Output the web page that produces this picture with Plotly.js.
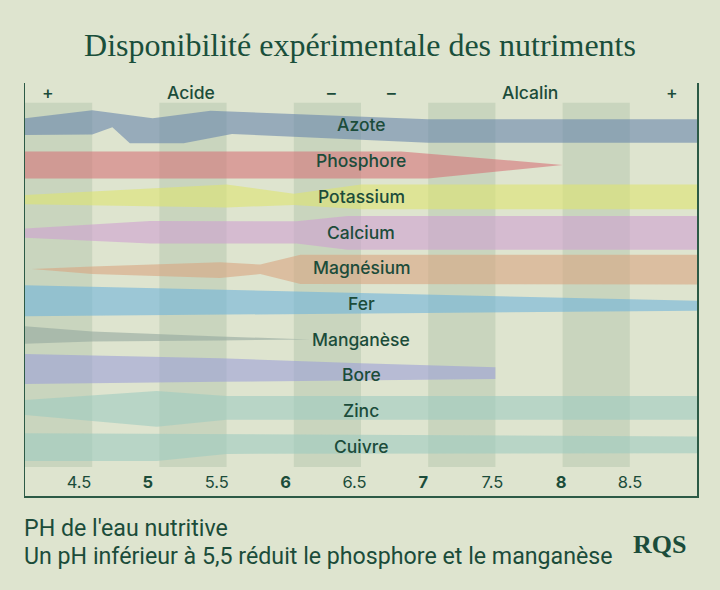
<!DOCTYPE html>
<html>
<head>
<meta charset="utf-8">
<script src="https://cdn.plot.ly/plotly-3.0.1.min.js"></script>
<style>
  html, body { margin: 0; padding: 0; background: #dee4cf; }
  #chart { width: 720px; height: 590px; }
</style>
</head>
<body>
<div id="chart"></div>
<script>
// ---------- data ----------
const nutrients = ['Azote','Phosphore','Potassium','Calcium','Magnésium','Fer','Manganèse','Bore','Zinc','Cuivre'];
const rowPos = [0,10,20,30,40,50,60,70,80,90];

const phTicks = [4.5,5,5.5,6,6.5,7,7.5,8,8.5];
const phTickText = ['4.5','<b>5</b>','5.5','<b>6</b>','6.5','<b>7</b>','7.5','<b>8</b>','8.5'];

const zoneStarts = [4,5,6,7,8];

const scaleLabels = ['+','Acide','–','–','Alcalin','+'];
const scaleLabelPH = [4.17,5.235,6.284,6.73,7.757,8.814];

// band edges: pH positions and availability edges (upper / lower)
const azoteTopPH = [4.0,4.5,4.95,5.38,7.0,9.0];
const azoteTop   = [-1.9,-4.1,-1.9,-4.0,-1.6,-1.6];
const azoteBotPH = [4.0,4.5,4.65,4.78,5.18,5.54,7.0,9.0];
const azoteBot   = [2.8,2.7,0.6,5.1,5.1,2.5,5.0,5.0];

const phosTopPH = [4.0,6.8,8.0];
const phosTop   = [7.4,7.4,11.2];
const phosBotPH = [4.0,7.0,8.0];
const phosBot   = [15.0,15.0,11.2];

const potaTopPH = [4.0,5.5,6.0,6.5,9.0];
const potaTop   = [19.6,16.7,19.3,16.7,16.7];
const potaBotPH = [4.0,5.5,6.0,6.5,9.0];
const potaBot   = [22.2,23.1,22.4,23.6,23.6];

const calcTopPH = [4.0,4.93,6.02,6.4,9.0];
const calcTop   = [29.0,26.9,27.0,25.5,25.5];
const calcBotPH = [4.0,4.93,6.02,6.4,9.0];
const calcBot   = [31.6,33.2,33.2,35.0,35.0];

const magnTopPH = [4.05,4.5,5.45,5.75,6.05,9.0];
const magnTop   = [40.4,39.7,38.5,39.1,36.4,36.4];
const magnBotPH = [4.05,4.5,5.45,5.75,6.05,9.0];
const magnBot   = [40.4,41.8,42.9,41.8,44.6,44.7];

const ferTopPH = [4.0,6.5,7.31,9.0];
const ferTop   = [44.9,47.1,47.7,49.3];
const ferBotPH = [4.0,6.5,9.0];
const ferBot   = [53.6,52.9,52.1];

const mangTopPH = [4.0,4.5,5.45,6.12];
const mangTop   = [56.4,57.9,59.3,60.1];
const mangBotPH = [4.0,4.5,5.45,6.12];
const mangBot   = [61.3,60.7,60.4,60.1];

const boreTopPH = [4.0,5.45,6.5,7.5];
const boreTop   = [64.2,65.4,66.8,67.9];
const boreBotPH = [4.0,5.45,6.5,7.5];
const boreBot   = [72.6,72.0,71.5,71.2];

const zincTopPH = [4.0,4.98,5.5,9.0];
const zincTop   = [77.1,74.6,76.0,76.0];
const zincBotPH = [4.0,4.98,5.5,9.0];
const zincBot   = [81.3,84.6,82.6,82.6];

const cuivTopPH = [4.0,6.5,9.0];
const cuivTop   = [86.4,86.9,87.3];
const cuivBotPH = [4.0,4.98,5.5,9.0];
const cuivBot   = [94.2,94.2,92.2,92.0];

const bandColors = [
  'rgba(104,133,172,0.6)',
  'rgba(214,115,120,0.6)',
  'rgba(222,228,112,0.6)',
  'rgba(207,160,209,0.6)',
  'rgba(217,165,129,0.6)',
  'rgba(112,180,219,0.6)',
  'rgba(149,168,159,0.6)',
  'rgba(157,160,215,0.6)',
  'rgba(159,203,192,0.6)',
  'rgba(159,203,192,0.6)'
];

const bands = [
  [azoteTopPH,azoteTop,azoteBotPH,azoteBot],
  [phosTopPH,phosTop,phosBotPH,phosBot],
  [potaTopPH,potaTop,potaBotPH,potaBot],
  [calcTopPH,calcTop,calcBotPH,calcBot],
  [magnTopPH,magnTop,magnBotPH,magnBot],
  [ferTopPH,ferTop,ferBotPH,ferBot],
  [mangTopPH,mangTop,mangBotPH,mangBot],
  [boreTopPH,boreTop,boreBotPH,boreBot],
  [zincTopPH,zincTop,zincBotPH,zincBot],
  [cuivTopPH,cuivTop,cuivBotPH,cuivBot]
];

// ---------- styling ----------
const GREEN = '#1b4c3a';
const BG = '#dee4cf';
const ZONE = 'rgba(176,195,168,0.45)';
const SANS = 'Inter, "Open Sans", sans-serif';

const traces = bands.map((b, i) => ({
  type: 'scatter',
  mode: 'lines',
  x: b[0].concat(b[2].slice().reverse()),
  y: b[1].concat(b[3].slice().reverse()),
  fill: 'toself',
  fillcolor: bandColors[i],
  line: { width: 0, color: 'rgba(0,0,0,0)' },
  hoverinfo: 'skip',
  name: nutrients[i],
  xaxis: 'x', yaxis: 'y'
}));

// empty trace so the label axis is drawn
traces.push({ type: 'scatter', mode: 'markers', x: [], y: [], xaxis: 'x2', yaxis: 'y', hoverinfo: 'skip' });

const shapes = zoneStarts.map(s => ({
  type: 'rect', layer: 'below', xref: 'x', yref: 'y',
  x0: s, x1: s + 0.5, y0: -6.2, y1: 95.9,
  fillcolor: ZONE, line: { width: 0 }
}));

const annotations = [];
nutrients.forEach((n, i) => annotations.push({
  x: 6.5, y: rowPos[i], xref: 'x', yref: 'y', text: n, showarrow: false,
  font: { family: SANS, size: 17.5, weight: 500, color: GREEN },
  xanchor: 'center', yanchor: 'middle'
}));
scaleLabels.forEach((t, i) => annotations.push({
  x: scaleLabelPH[i], y: -9.0, xref: 'x', yref: 'y', text: t, showarrow: false,
  font: { family: SANS, size: 17.5, weight: 500, color: GREEN },
  xanchor: 'center', yanchor: 'middle'
}));
annotations.push({
  xref: 'paper', yref: 'paper', x: -0.0045, y: -0.0775, xanchor: 'left', yanchor: 'middle',
  text: "PH de l'eau nutritive", showarrow: false,
  font: { family: 'Roboto, sans-serif', size: 23.2, color: GREEN }
});
annotations.push({
  xref: 'paper', yref: 'paper', x: -0.0045, y: -0.145, xanchor: 'left', yanchor: 'middle',
  text: 'Un pH inférieur à 5,5 réduit le phosphore et le manganèse', showarrow: false,
  font: { family: 'Roboto, sans-serif', size: 23.2, color: GREEN }
});
annotations.push({
  xref: 'paper', yref: 'paper', x: 0.9435, y: -0.118, xanchor: 'center', yanchor: 'middle',
  text: '<b>RQS</b>', showarrow: false,
  font: { family: '"Liberation Serif", serif', size: 26, color: GREEN }
});

const layout = {
  width: 720, height: 590,
  margin: { l: 25, r: 23, t: 83, b: 94 },
  paper_bgcolor: BG, plot_bgcolor: BG,
  showlegend: false, hovermode: false,
  title: {
    text: 'Disponibilité expérimentale des nutriments',
    x: 0.5, xref: 'container', xanchor: 'center',
    y: 1 - 45/590, yref: 'container', yanchor: 'middle',
    font: { family: '"Liberation Serif", "DejaVu Serif", serif', size: 32, color: '#1a4f3b' }
  },
  xaxis: {
    range: [4, 9], showgrid: false, zeroline: false,
    showticklabels: false, ticks: '',
    showline: true, linecolor: '#2c5a46', linewidth: 1.5, mirror: false
  },
  xaxis2: {
    overlaying: 'x', anchor: 'y', side: 'bottom',
    range: [4.108, 8.986], showgrid: false, zeroline: false, showline: false,
    tickvals: phTicks, ticktext: phTickText, ticks: '',
    ticklabelposition: 'inside', ticklabelstandoff: 2,
    tickfont: { family: SANS, size: 16.5, color: GREEN }
  },
  yaxis: {
    range: [104.0, -11.77], showgrid: false, zeroline: false,
    showticklabels: false, ticks: '',
    showline: true, linecolor: '#2c5a46', linewidth: 1.5, mirror: true
  },
  shapes: shapes,
  annotations: annotations
};

Plotly.newPlot('chart', traces, layout, { staticPlot: true, displayModeBar: false });
</script>
</body>
</html>
